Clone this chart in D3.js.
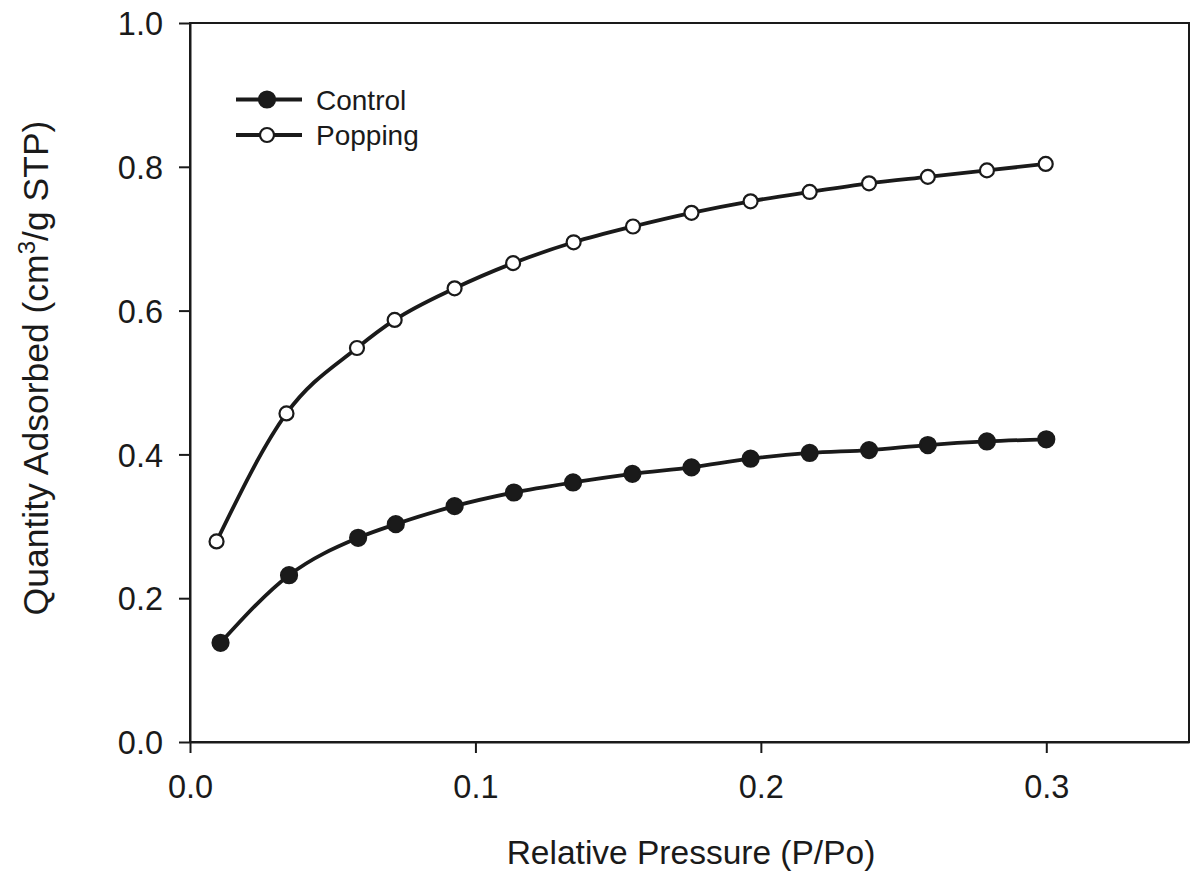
<!DOCTYPE html>
<html>
<head>
<meta charset="utf-8">
<script src="https://cdn.jsdelivr.net/npm/d3@7"></script>
<style>
  body { margin: 0; background: #fff; }
  svg { display: block; }
  text { font-family: "Liberation Sans", Arial, sans-serif; fill: #1a1a1a; }
</style>
</head>
<body>
<svg id="chart" width="1200" height="880"></svg>
<script>
const xTicks = [0.0, 0.1, 0.2, 0.3];
const yTicks = [0.0, 0.2, 0.4, 0.6, 0.8, 1.0];
const seriesNames = ["Control", "Popping"];
const controlX = [0.0107, 0.0347, 0.0589, 0.0721, 0.0927, 0.1135, 0.1342, 0.1550, 0.1757, 0.1964, 0.2171, 0.2379, 0.2585, 0.2792, 0.3000];
const controlY = [0.138, 0.232, 0.284, 0.303, 0.328, 0.347, 0.361, 0.373, 0.382, 0.394, 0.402, 0.406, 0.413, 0.418, 0.421];
const poppingX = [0.0093, 0.0338, 0.0585, 0.0717, 0.0927, 0.1132, 0.1344, 0.1552, 0.1757, 0.1964, 0.2171, 0.2379, 0.2585, 0.2792, 0.2998];
const poppingY = [0.279, 0.457, 0.548, 0.587, 0.631, 0.666, 0.695, 0.717, 0.736, 0.752, 0.765, 0.777, 0.786, 0.795, 0.804];

const svg = d3.select("#chart");
const L = 190, R = 1189, T = 23, B = 742;
const x = d3.scaleLinear().domain([0, 0.35]).range([L, R]);
const y = d3.scaleLinear().domain([0, 1.0]).range([B, T]);
const ink = "#1a1a1a";

// frame (top and right borders)
svg.append("rect").attr("x", L).attr("y", T).attr("width", R - L).attr("height", B - T)
  .attr("fill", "none").attr("stroke", ink).attr("stroke-width", 2);

const xAxis = svg.append("g").attr("transform", `translate(0,${B})`)
  .call(d3.axisBottom(x).tickValues(xTicks).tickFormat(d3.format(".1f")).tickSizeInner(11).tickSizeOuter(0).tickPadding(22));
const yAxis = svg.append("g").attr("transform", `translate(${L},0)`)
  .call(d3.axisLeft(y).tickValues(yTicks).tickFormat(d3.format(".1f")).tickSizeInner(11).tickSizeOuter(0).tickPadding(16));
[xAxis, yAxis].forEach(g => {
  g.select(".domain").attr("stroke", ink).attr("stroke-width", 2);
  g.selectAll(".tick line").attr("stroke", ink).attr("stroke-width", 2);
  g.selectAll(".tick text").attr("fill", ink).style("font-size", "32.5px")
    .style("font-family", '"Liberation Sans", Arial, sans-serif');
});
yAxis.selectAll(".tick text").attr("dy", "0.36em");

const line = d3.line().x(d => x(d[0])).y(d => y(d[1])).curve(d3.curveMonotoneX);
const series = [
  { name: seriesNames[0], pts: d3.zip(controlX, controlY), fill: ink },
  { name: seriesNames[1], pts: d3.zip(poppingX, poppingY), fill: "#fff" }
];
series.forEach(s => {
  svg.append("path").datum(s.pts).attr("d", line)
    .attr("fill", "none").attr("stroke", ink).attr("stroke-width", 3.8);
});
series.forEach(s => {
  svg.append("g").selectAll("circle").data(s.pts).join("circle")
    .attr("cx", d => x(d[0])).attr("cy", d => y(d[1]))
    .attr("r", s.fill === "#fff" ? 7 : 8)
    .attr("fill", s.fill).attr("stroke", ink).attr("stroke-width", 2.2);
});

// legend
const leg = svg.append("g");
series.forEach((s, i) => {
  const ly = 99.5 + i * 35.5;
  leg.append("line").attr("x1", 236).attr("x2", 302).attr("y1", ly).attr("y2", ly)
    .attr("stroke", ink).attr("stroke-width", 3.8);
  leg.append("circle").attr("cx", 267).attr("cy", ly).attr("r", s.fill === "#fff" ? 7 : 8)
    .attr("fill", s.fill).attr("stroke", ink).attr("stroke-width", 2.2);
  leg.append("text").attr("x", 316).attr("y", ly).attr("dy", "0.36em")
    .style("font-size", "28px").text(s.name);
});

// axis titles
svg.append("text").attr("x", 691).attr("y", 864).attr("text-anchor", "middle")
  .style("font-size", "33.5px").text("Relative Pressure (P/Po)");
const yt = svg.append("text").attr("transform", "translate(48,368) rotate(-90)")
  .attr("text-anchor", "middle").style("font-size", "35.5px");
yt.append("tspan").text("Quantity Adsorbed (cm");
yt.append("tspan").attr("dy", "-13").style("font-size", "24px").text("3");
yt.append("tspan").attr("dy", "13").text("/g STP)");
</script>
</body>
</html>
